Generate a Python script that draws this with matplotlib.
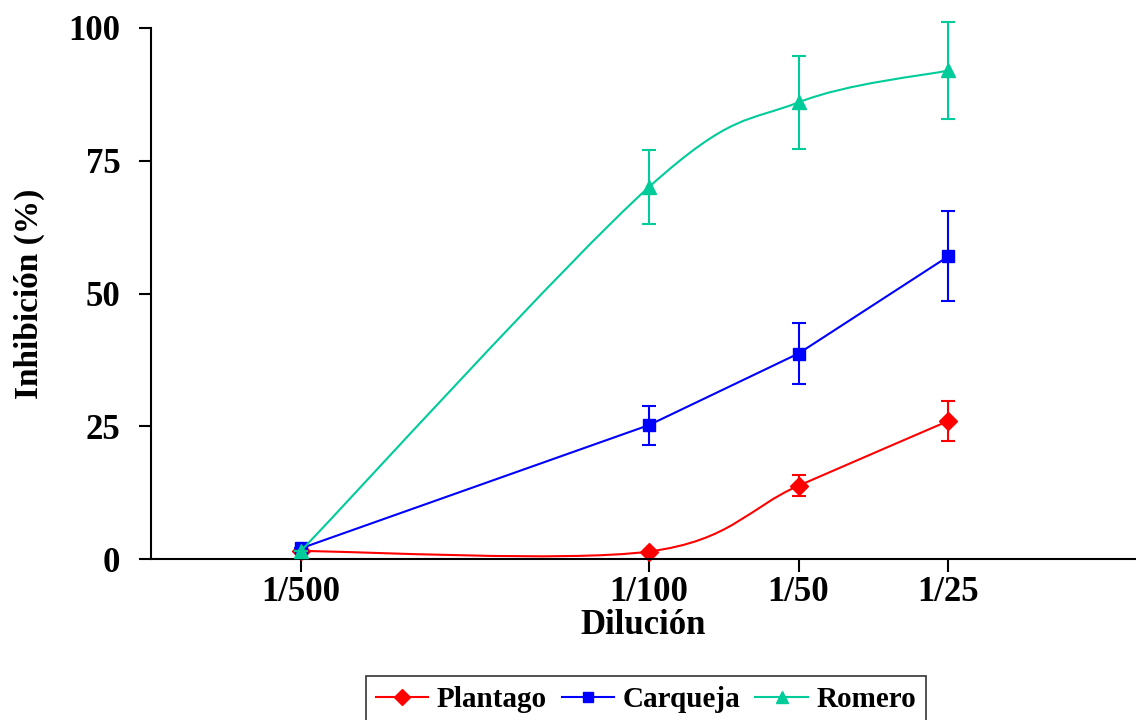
import numpy as np
import matplotlib
matplotlib.use("Agg")
import matplotlib.pyplot as plt
from matplotlib.path import Path
from matplotlib.patches import PathPatch
from matplotlib.lines import Line2D

plt.rcParams["font.family"] = ["Liberation Serif", "DejaVu Serif"]
plt.rcParams["font.weight"] = "bold"

# datos
diluciones = [1 / 500, 1 / 100, 1 / 50, 1 / 25]
etiquetas = ["1/500", "1/100", "1/50", "1/25"]

plantago = [1.5, 1.4, 13.8, 26.0]
plantago_err = [0, 0, 2.0, 3.8]

carqueja = [2.0, 25.2, 38.7, 57.0]
carqueja_err = [0, 3.7, 5.7, 8.5]

romero = [1.5, 70.0, 86.0, 92.0]
romero_err = [0, 7.0, 8.7, 9.2]

ROJO = "#FF0000"
AZUL = "#0000FF"
VERDE = "#00CC99"


def curva_suave(x, y):
    """Bezier tipo Catmull-Rom (como el suavizado de Excel) en espacio log-x"""
    u = np.log10(np.asarray(x, dtype=float))
    v = np.asarray(y, dtype=float)
    pts = np.column_stack([u, v])
    n = len(pts)
    verts = [pts[0]]
    codes = [Path.MOVETO]
    for i in range(n - 1):
        p0 = pts[max(i - 1, 0)]
        p1 = pts[i]
        p2 = pts[i + 1]
        p3 = pts[min(i + 2, n - 1)]
        c1 = p1 + (p2 - p0) / 6.0
        c2 = p2 - (p3 - p1) / 6.0
        verts += [c1, c2, p2]
        codes += [Path.CURVE4] * 3
    verts = np.array(verts)
    verts[:, 0] = 10 ** verts[:, 0]
    return Path(verts, codes)


fig = plt.figure(figsize=(11.36, 7.2), dpi=100)
ax = fig.add_axes([151 / 1136, 161 / 720, 1 - 151 / 1136, 531 / 720])
ax.set_xscale("log")

series = [
    ("Plantago", plantago, plantago_err, ROJO, "D", 9, True),
    ("Carqueja", carqueja, carqueja_err, AZUL, "s", 8, False),
    ("Romero", romero, romero_err, VERDE, "^", 10, True),
]

handles = []
for i, (nombre, vals, err, col, mk, ms, suave) in enumerate(series):
    if suave:
        ax.add_patch(PathPatch(curva_suave(diluciones, vals), fill=False,
                               edgecolor=col, linewidth=1.5, zorder=2 + i,
                               clip_on=False))
        ls = "none"
    else:
        ls = "-"
    lineas = ax.errorbar(diluciones, vals, yerr=err, color=col, marker=mk,
                         markersize=ms, linestyle=ls, linewidth=1.5,
                         elinewidth=1.5, capsize=5, capthick=1.5, zorder=2 + i)
    for art in lineas.lines[0:1] + lineas.lines[1] + lineas.lines[2]:
        art.set_clip_on(False)
    handles.append(Line2D([], [], color=col, marker=mk, markersize=ms - 1,
                          linewidth=1.5, label=nombre))

ax.set_xlim(0.001, 0.0953)
ax.set_ylim(0, 100)
ax.set_xticks(diluciones)
ax.set_xticklabels(etiquetas)
ax.xaxis.set_minor_locator(matplotlib.ticker.NullLocator())
ax.set_yticks([0, 25, 50, 75, 100])

for s in ["top", "right"]:
    ax.spines[s].set_visible(False)
for s in ["left", "bottom"]:
    ax.spines[s].set_linewidth(1.5)

ax.tick_params(axis="both", direction="out", length=9, width=1.5, labelsize=25)
ax.tick_params(axis="y", pad=13)
ax.tick_params(axis="x", pad=3)

ax.set_xlabel("Dilución", fontsize=25, fontweight="bold", labelpad=0)
ax.set_ylabel("Inhibición (%)", fontsize=24, fontweight="bold")
ax.yaxis.set_label_coords(-0.108, 0.5)

leg = fig.legend(handles=handles, loc="upper center", ncol=3,
                 bbox_to_anchor=(646 / 1136, 1 - 676 / 720),
                 bbox_transform=fig.transFigure, fontsize=21, frameon=True,
                 fancybox=False, edgecolor="black", handlelength=1.8,
                 handletextpad=0.3, columnspacing=0.5, borderpad=0.35,
                 borderaxespad=0)
leg.get_frame().set_linewidth(1.2)
for t in leg.get_texts():
    t.set_fontweight("bold")

fig.savefig("out.png", dpi=100)
